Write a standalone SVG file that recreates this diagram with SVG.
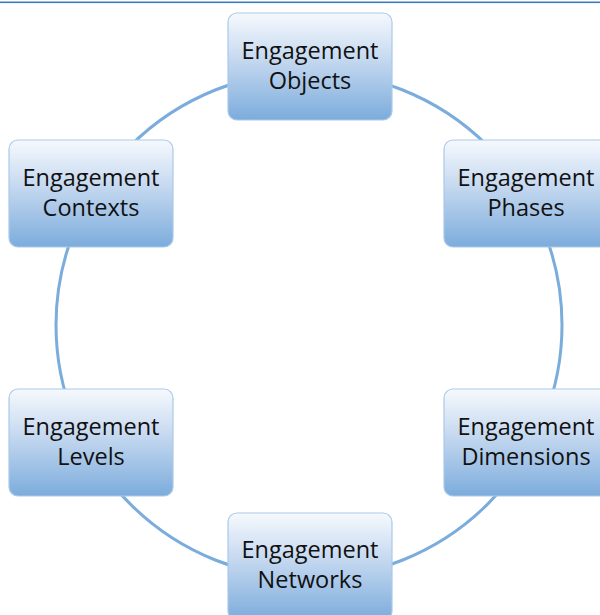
<svg xmlns="http://www.w3.org/2000/svg" width="600" height="615" viewBox="0 0 600 615">
  <defs>
    <linearGradient id="g" x1="0" y1="0" x2="0" y2="1">
      <stop offset="0" stop-color="#f6f9fd"/>
      <stop offset="0.4" stop-color="#c9dbf1"/>
      <stop offset="1" stop-color="#7cacdc"/>
    </linearGradient>
  </defs>
  <style>
    .box { fill: url(#g); stroke: #a9c9ea; stroke-width: 1.2; }
    .lbl { font-family: "Open Sans", "Noto Sans", sans-serif; font-size: 23.5px; fill: #111; text-anchor: middle; }
    .conn { fill: none; stroke: #7aaddc; stroke-width: 3; }
  </style>
  <rect x="0" y="0" width="600" height="615" fill="#ffffff"/>
  <rect x="0" y="1.5" width="600" height="1.6" fill="#3b7dbf"/>
  <g id="connectors">
    <circle class="conn" cx="309" cy="325" r="253"/>
  </g>
  <g id="node-objects">
    <rect class="box" x="228" y="13" width="164" height="107" rx="9"/>
    <text class="lbl" x="310" y="59">Engagement</text>
    <text class="lbl" x="310" y="89">Objects</text>
  </g>
  <g id="node-contexts">
    <rect class="box" x="9" y="140" width="164" height="107" rx="9"/>
    <text class="lbl" x="91" y="186">Engagement</text>
    <text class="lbl" x="91" y="216">Contexts</text>
  </g>
  <g id="node-phases">
    <rect class="box" x="444" y="140" width="164" height="107" rx="9"/>
    <text class="lbl" x="526" y="186">Engagement</text>
    <text class="lbl" x="526" y="216">Phases</text>
  </g>
  <g id="node-levels">
    <rect class="box" x="9" y="389" width="164" height="107" rx="9"/>
    <text class="lbl" x="91" y="435">Engagement</text>
    <text class="lbl" x="91" y="465">Levels</text>
  </g>
  <g id="node-dimensions">
    <rect class="box" x="444" y="389" width="164" height="107" rx="9"/>
    <text class="lbl" x="526" y="435">Engagement</text>
    <text class="lbl" x="526" y="465">Dimensions</text>
  </g>
  <g id="node-networks">
    <rect class="box" x="228" y="513" width="164" height="107" rx="9"/>
    <text class="lbl" x="310" y="558">Engagement</text>
    <text class="lbl" x="310" y="588">Networks</text>
  </g>
</svg>
